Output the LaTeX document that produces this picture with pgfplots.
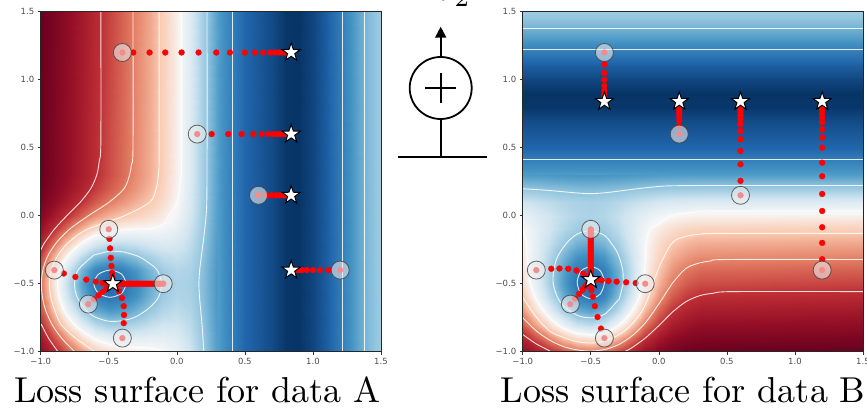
\documentclass[border=0pt]{standalone}
\usepackage{fontspec}
\usepackage{pgfplots}
\usepackage{pgfplotstable}
\pgfplotsset{compat=1.18}
\usetikzlibrary{arrows.meta}
\newfontfamily\dejavu{DejaVu Sans}

\pgfdeclareplotmark{fstar}{%
  \pgfpathmoveto{\pgfpointpolar{90}{\pgfplotmarksize}}%
  \pgfpathlineto{\pgfpointpolar{126}{0.4\pgfplotmarksize}}%
  \pgfpathlineto{\pgfpointpolar{162}{\pgfplotmarksize}}%
  \pgfpathlineto{\pgfpointpolar{198}{0.4\pgfplotmarksize}}%
  \pgfpathlineto{\pgfpointpolar{234}{\pgfplotmarksize}}%
  \pgfpathlineto{\pgfpointpolar{270}{0.4\pgfplotmarksize}}%
  \pgfpathlineto{\pgfpointpolar{306}{\pgfplotmarksize}}%
  \pgfpathlineto{\pgfpointpolar{342}{0.4\pgfplotmarksize}}%
  \pgfpathlineto{\pgfpointpolar{18}{\pgfplotmarksize}}%
  \pgfpathlineto{\pgfpointpolar{54}{0.4\pgfplotmarksize}}%
  \pgfpathclose
  \pgfusepathqfillstroke}

% loss surface (u = band coordinate, v = other coordinate); panel B is the transpose
\pgfplotstableread{
u v m
-1 -1 0.907
-0.9 -1 0.823
-0.8 -1 0.738
-0.7 -1 0.662
-0.6 -1 0.600
-0.5 -1 0.560
-0.4 -1 0.540
-0.3 -1 0.527
-0.2 -1 0.518
-0.1 -1 0.500
0 -1 0.463
0.1 -1 0.400
0.2 -1 0.307
0.3 -1 0.214
-1 -0.9 0.860
-0.9 -0.9 0.755
-0.8 -0.9 0.651
-0.7 -0.9 0.558
-0.6 -0.9 0.489
-0.5 -0.9 0.451
-0.4 -0.9 0.441
-0.3 -0.9 0.443
-0.2 -0.9 0.453
-0.1 -0.9 0.454
0 -0.9 0.435
0.1 -0.9 0.384
0.2 -0.9 0.300
0.3 -0.9 0.212
-1 -0.8 0.806
-0.9 -0.8 0.680
-0.8 -0.8 0.553
-0.7 -0.8 0.442
-0.6 -0.8 0.364
-0.5 -0.8 0.328
-0.4 -0.8 0.329
-0.3 -0.8 0.350
-0.2 -0.8 0.380
-0.1 -0.8 0.403
0 -0.8 0.402
0.1 -0.8 0.367
0.2 -0.8 0.293
0.3 -0.8 0.208
-1 -0.7 0.756
-0.9 -0.7 0.608
-0.8 -0.7 0.460
-0.7 -0.7 0.333
-0.6 -0.7 0.247
-0.5 -0.7 0.213
-0.4 -0.7 0.224
-0.3 -0.7 0.262
-0.2 -0.7 0.312
-0.1 -0.7 0.354
0 -0.7 0.372
0.1 -0.7 0.350
0.2 -0.7 0.286
0.3 -0.7 0.205
-1 -0.6 0.721
-0.9 -0.6 0.558
-0.8 -0.6 0.394
-0.7 -0.6 0.255
-0.6 -0.6 0.163
-0.5 -0.6 0.130
-0.4 -0.6 0.150
-0.3 -0.6 0.199
-0.2 -0.6 0.263
-0.1 -0.6 0.320
0 -0.6 0.350
0.1 -0.6 0.339
0.2 -0.6 0.281
0.3 -0.6 0.203
-1 -0.5 0.708
-0.9 -0.5 0.539
-0.8 -0.5 0.370
-0.7 -0.5 0.226
-0.6 -0.5 0.132
-0.5 -0.5 0.100
-0.4 -0.5 0.122
-0.3 -0.5 0.176
-0.2 -0.5 0.245
-0.1 -0.5 0.307
0 -0.5 0.342
0.1 -0.5 0.334
0.2 -0.5 0.279
0.3 -0.5 0.202
-1 -0.4 0.725
-0.9 -0.4 0.564
-0.8 -0.4 0.402
-0.7 -0.4 0.264
-0.6 -0.4 0.173
-0.5 -0.4 0.140
-0.4 -0.4 0.159
-0.3 -0.4 0.207
-0.2 -0.4 0.269
-0.1 -0.4 0.324
0 -0.4 0.353
0.1 -0.4 0.340
0.2 -0.4 0.282
0.3 -0.4 0.203
-1 -0.3 0.771
-0.9 -0.3 0.630
-0.8 -0.3 0.488
-0.7 -0.3 0.365
-0.6 -0.3 0.282
-0.5 -0.3 0.247
-0.4 -0.3 0.256
-0.3 -0.3 0.288
-0.2 -0.3 0.332
-0.1 -0.3 0.369
0 -0.3 0.381
0.1 -0.3 0.355
0.2 -0.3 0.288
0.3 -0.3 0.206
-1 -0.2 0.832
-0.9 -0.2 0.716
-0.8 -0.2 0.600
-0.7 -0.2 0.498
-0.6 -0.2 0.424
-0.5 -0.2 0.388
-0.4 -0.2 0.383
-0.3 -0.2 0.395
-0.2 -0.2 0.415
-0.1 -0.2 0.428
0 -0.2 0.418
0.1 -0.2 0.375
0.2 -0.2 0.297
0.3 -0.2 0.210
-1 -0.1 0.891
-0.9 -0.1 0.800
-0.8 -0.1 0.709
-0.7 -0.1 0.627
-0.6 -0.1 0.562
-0.5 -0.1 0.523
-0.4 -0.1 0.506
-0.3 -0.1 0.498
-0.2 -0.1 0.496
-0.1 -0.1 0.484
0 -0.1 0.454
0.1 -0.1 0.394
0.2 -0.1 0.305
0.3 -0.1 0.213
-1 0 0.937
-0.9 0 0.866
-0.8 0 0.794
-0.7 0 0.728
-0.6 0 0.671
-0.5 0 0.631
-0.4 0 0.604
-0.3 0 0.580
-0.2 0 0.559
-0.1 0 0.529
0 0 0.482
0.1 0 0.410
0.2 0 0.311
0.3 0 0.216
-1 0.1 0.968
-0.9 0.1 0.910
-0.8 0.1 0.851
-0.7 0.1 0.795
-0.6 0.1 0.743
-0.5 0.1 0.701
-0.4 0.1 0.668
-0.3 0.1 0.634
-0.2 0.1 0.601
-0.1 0.1 0.559
0 0.1 0.501
0.1 0.1 0.420
0.2 0.1 0.316
0.3 0.1 0.218
-1 0.2 0.986
-0.9 0.2 0.935
-0.8 0.2 0.884
-0.7 0.2 0.834
-0.6 0.2 0.784
-0.5 0.2 0.742
-0.4 0.2 0.705
-0.3 0.2 0.665
-0.2 0.2 0.625
-0.1 0.2 0.576
0 0.2 0.511
0.1 0.2 0.425
0.2 0.2 0.318
0.3 0.2 0.220
-1 0.3 0.994
-0.9 0.3 0.947
-0.8 0.3 0.900
-0.7 0.3 0.853
-0.6 0.3 0.805
-0.5 0.3 0.762
-0.4 0.3 0.723
-0.3 0.3 0.680
-0.2 0.3 0.637
-0.1 0.3 0.585
0 0.3 0.517
0.1 0.3 0.428
0.2 0.3 0.320
0.3 0.3 0.220
-1 1.5 1.000
-0.9 1.5 0.955
-0.8 1.5 0.910
-0.7 1.5 0.865
-0.6 1.5 0.818
-0.5 1.5 0.775
-0.4 1.5 0.735
-0.3 1.5 0.690
-0.2 1.5 0.645
-0.1 1.5 0.590
0 1.5 0.520
0.1 1.5 0.430
0.2 1.5 0.320
0.3 1.5 0.220
}\surfA

\pgfplotstableread{
u v m
0.3 -1 0.220
0.4 -1 0.160
0.5 -1 0.100
0.6 -1 0.075
0.7 -1 0.050
0.8 -1 0.012
0.9 -1 0.008
1.0 -1 0.040
1.1 -1 0.085
1.2 -1 0.145
1.3 -1 0.215
1.4 -1 0.275
1.5 -1 0.320
0.3 1.5 0.220
0.4 1.5 0.160
0.5 1.5 0.100
0.6 1.5 0.075
0.7 1.5 0.050
0.8 1.5 0.012
0.9 1.5 0.008
1.0 1.5 0.040
1.1 1.5 0.085
1.2 1.5 0.145
1.3 1.5 0.215
1.4 1.5 0.275
1.5 1.5 0.320
}\surfR

% contour lines
\pgfplotstableread{
u v
-0.558 1.5
-0.558 0.55
-0.57 0.4
-0.588 0.3
-0.632 0.2
-0.709 0.1
-0.808 0
-0.9 -0.1
-0.972 -0.2
-1 -0.252
}\lA
\pgfplotstableread{
u v
-1 -0.812
-0.995 -0.8
-0.943 -0.9
-0.873 -1
}\lB
\pgfplotstableread{
u v
-0.322 1.5
-0.322 0.5
-0.333 0.38
-0.347 0.3
-0.387 0.2
-0.497 0.1
-0.649 0
-0.789 -0.1
-0.886 -0.2
-0.95 -0.3
-0.984 -0.4
-0.995 -0.5
-0.987 -0.6
-0.962 -0.7
-0.916 -0.8
-0.847 -0.9
-0.75 -1
}\lC
\pgfplotstableread{
u v
-0.13 1.5
-0.13 0.45
-0.136 0.3
-0.152 0.2
-0.198 0.1
-0.383 0
-0.658 -0.1
-0.8 -0.2
-0.879 -0.3
-0.922 -0.4
-0.936 -0.5
-0.926 -0.6
-0.895 -0.7
-0.85 -0.8
-0.745 -0.9
-0.6 -1
}\lE
\pgfplotstableread{
u v
0.035 1.5
0.035 0.4
0.03 0.3
0.02 0.2
0.004 0.1
-0.062 0
-0.1 -0.064
-0.2 -0.094
-0.3 -0.098
-0.4 -0.105
-0.5 -0.117
-0.6 -0.145
-0.702 -0.2
-0.808 -0.3
-0.86 -0.4
-0.877 -0.5
-0.865 -0.6
-0.827 -0.7
-0.752 -0.8
-0.616 -0.9
-0.5 -0.945
-0.4 -0.96
-0.3 -0.968
-0.2 -0.972
-0.1 -1
}\lF
\pgfplotstableread{
u v
0.222 1.5
0.222 0.4
0.22 0.1
0.215 0
0.205 -0.1
0.193 -0.2
0.18 -0.3
0.168 -0.4
0.162 -0.5
0.167 -0.6
0.176 -0.7
0.185 -0.8
0.192 -0.9
0.198 -1
}\lG
\pgfplotstableread{
u v
-0.5 -0.262
-0.4 -0.265
-0.28 -0.3
-0.2 -0.351
-0.144 -0.4
-0.111 -0.5
-0.135 -0.6
-0.2 -0.676
-0.3 -0.743
-0.4 -0.772
-0.5 -0.776
-0.6 -0.745
-0.662 -0.7
-0.732 -0.6
-0.751 -0.5
-0.726 -0.4
-0.622 -0.3
-0.6 -0.287
-0.5 -0.262
}\lH
\pgfplotstableread{
u v
-0.37 -0.5
-0.405 -0.43
-0.49 -0.4
-0.575 -0.43
-0.61 -0.5
-0.575 -0.57
-0.49 -0.6
-0.405 -0.57
-0.37 -0.5
}\lI
\pgfplotstableread{
u v
0.41 -1
0.41 1.5
}\lJ
\pgfplotstableread{
u v
1.22 -1
1.22 1.5
}\lK
\pgfplotstableread{
u v
1.38 -1
1.38 1.5
}\lL

% gradient-descent iterates
\pgfplotstableread{
u v
-0.4 1.2
-0.32 1.2
-0.2 1.2
-0.085 1.2
0.035 1.2
0.16 1.2
0.29 1.2
0.39 1.2
0.5 1.2
0.575 1.2
0.635 1.2
0.685 1.2
0.72 1.2
0.75 1.2
0.775 1.2
0.795 1.2
0.81 1.2
0.822 1.2
0.832 1.2
0.15 0.6
0.256 0.6
0.378 0.6
0.476 0.6
0.562 0.6
0.623 0.6
0.672 0.6
0.709 0.6
0.738 0.6
0.763 0.6
0.782 0.6
0.8 0.6
0.813 0.6
0.824 0.6
0.833 0.6
0.6 0.15
0.66 0.15
0.70 0.15
0.73 0.15
0.755 0.15
0.775 0.15
0.79 0.15
0.805 0.15
0.815 0.15
0.825 0.15
0.833 0.15
1.2 -0.4
1.113 -0.4
1.05 -0.4
1.0 -0.4
0.955 -0.4
0.92 -0.4
0.895 -0.4
0.876 -0.4
0.862 -0.4
0.852 -0.4
0.845 -0.4
-0.5 -0.1
-0.495 -0.17
-0.49 -0.24
-0.485 -0.31
-0.48 -0.37
-0.475 -0.42
-0.472 -0.455
-0.9 -0.4
-0.83 -0.425
-0.745 -0.45
-0.665 -0.47
-0.595 -0.485
-0.545 -0.495
-0.51 -0.5
-0.1 -0.5
-0.115 -0.5
-0.13 -0.5
-0.145 -0.5
-0.16 -0.5
-0.175 -0.5
-0.19 -0.5
-0.205 -0.5
-0.22 -0.5
-0.235 -0.5
-0.25 -0.5
-0.265 -0.5
-0.28 -0.5
-0.295 -0.5
-0.31 -0.5
-0.325 -0.5
-0.34 -0.5
-0.355 -0.5
-0.37 -0.5
-0.385 -0.5
-0.4 -0.5
-0.415 -0.5
-0.43 -0.5
-0.445 -0.5
-0.46 -0.5
-0.65 -0.65
-0.61 -0.615
-0.575 -0.585
-0.545 -0.56
-0.52 -0.54
-0.5 -0.525
-0.4 -0.9
-0.39 -0.79
-0.388 -0.73
-0.39 -0.665
-0.403 -0.605
-0.425 -0.555
-0.448 -0.525
}\dotsT

\pgfplotstableread{
u v
-0.4 1.2
0.15 0.6
0.6 0.15
1.2 -0.4
-0.5 -0.1
-0.9 -0.4
-0.1 -0.5
-0.65 -0.65
-0.4 -0.9
}\startsT

\pgfplotstableread{
u v
0.84 1.2
0.84 0.6
0.84 0.15
0.84 -0.4
-0.47 -0.5
}\starsT

\pgfplotsset{
  panel/.style={
    anchor=south west,
    width=340.3pt, height=340pt, scale only axis,
    xmin=-1, xmax=1.5, ymin=-1, ymax=1.5,
    xtick={-1,-0.5,0,0.5,1,1.5}, ytick={-1,-0.5,0,0.5,1,1.5},
    xticklabels={−1.0,−0.5,0.0,0.5,1.0,1.5},
    yticklabels={−1.0,−0.5,0.0,0.5,1.0,1.5},
    tick label style={font=\dejavu\fontsize{8.5}{9}\selectfont, text=black!70},
    tick align=outside, tick pos=left, major tick length=3pt,
    tick style={black!80, line width=0.6pt},
    axis line style={black!85, line width=0.7pt},
    axis on top,
    colormap={rdbu}{rgb255=(5,48,97) rgb255=(33,102,172) rgb255=(67,147,195) rgb255=(146,197,222) rgb255=(209,229,240) rgb255=(247,247,247) rgb255=(250,203,178) rgb255=(226,124,98) rgb255=(189,46,53) rgb255=(148,14,38) rgb255=(103,0,31)},
    point meta min=0, point meta max=1,
  },
  cl/.style={white, line width=0.9pt, opacity=0.85, smooth, tension=0.5, no markers},
}

\newcommand\panel[2]{%
  \addplot[surf, shader=interp, mesh/cols=14, point meta=explicit] table[x=#1, y=#2, meta=m] {\surfA};
  \addplot[surf, shader=interp, mesh/cols=13, point meta=explicit] table[x=#1, y=#2, meta=m] {\surfR};
  \addplot[cl] table[x=#1, y=#2] {\lA};
  \addplot[cl] table[x=#1, y=#2] {\lB};
  \addplot[cl] table[x=#1, y=#2] {\lC};
  \addplot[cl] table[x=#1, y=#2] {\lE};
  \addplot[cl] table[x=#1, y=#2] {\lF};
  \addplot[cl] table[x=#1, y=#2] {\lG};
  \addplot[cl] table[x=#1, y=#2] {\lH};
  \addplot[cl] table[x=#1, y=#2] {\lI};
  \addplot[cl] table[x=#1, y=#2] {\lJ};
  \addplot[cl] table[x=#1, y=#2] {\lK};
  \addplot[cl] table[x=#1, y=#2] {\lL};
  \addplot[only marks, mark=*, mark size=2.9pt, mark options={fill=red, draw=red}] table[x=#1, y=#2] {\dotsT};
  \addplot[only marks, mark=*, mark size=9pt, mark options={fill=white!85!gray, fill opacity=0.6, draw=black!75, draw opacity=0.8, line width=0.8pt}] table[x=#1, y=#2] {\startsT};
  \addplot[only marks, mark=fstar, mark size=9.5pt, mark options={fill=white, draw=black, line width=1pt}] table[x=#1, y=#2] {\starsT};
}

\begin{document}
\begin{tikzpicture}[x=1pt, y=1pt]
\useasboundingbox (0,0) rectangle (867,408);

\begin{axis}[panel, at={(40.7pt,56.3pt)}]
\panel{u}{v}
\end{axis}

\begin{axis}[panel, at={(522.7pt,56.3pt)}]
\panel{v}{u}
\end{axis}

% titles
\node[anchor=base west, inner sep=0pt, scale=3.6, font=\fontsize{10}{12}\selectfont] at (13.3,5.3) {Loss surface for data A};
\node[anchor=base west, inner sep=0pt, scale=3.6, font=\fontsize{10}{12}\selectfont] at (500,5.3) {Loss surface for data B};

% diagram between the panels
\node[anchor=base west, inner sep=0pt, scale=3.6] at (437,407) {$\theta_2$};
\draw[line width=1.8pt] (440.7,320) circle[radius=31];
\draw[line width=1.8pt] (425.2,320) -- (456.2,320);
\draw[line width=1.8pt] (440.7,304.7) -- (440.7,335.3);
\draw[line width=1.8pt, -{Triangle[length=11pt, width=11pt]}] (440.7,351) -- (440.7,381.3);
\draw[line width=1.8pt] (440.7,289) -- (440.7,251.3);
\draw[line width=1.8pt] (398,251.3) -- (487,251.3);
\end{tikzpicture}
\end{document}
